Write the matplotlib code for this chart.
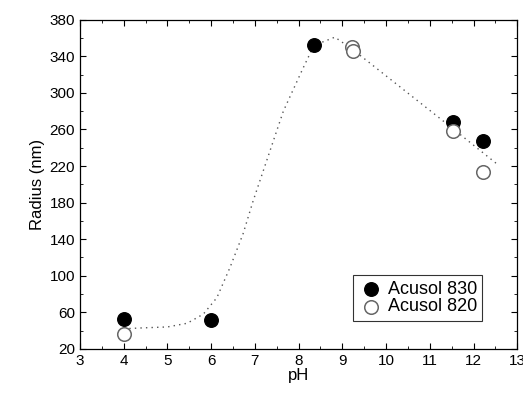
import matplotlib
matplotlib.use('Agg')
import matplotlib.pyplot as plt
from matplotlib.ticker import MultipleLocator

plt.rcParams['font.family'] = ['Liberation Sans', 'DejaVu Sans']

# Acusol 830 (filled)
ph_830 = [4.0, 6.0, 8.35, 11.52, 12.22]
rad_830 = [53, 52, 352, 268, 247]

# Acusol 820 (open)
ph_820 = [4.0, 9.22, 9.25, 11.52, 12.22]
rad_820 = [36, 350, 346, 258, 214]

# dotted guide curve
fit_ph = [4.0, 4.45, 5.0, 5.45, 5.82, 6.13, 6.43, 6.73, 6.96, 7.27, 7.65, 8.1, 8.35, 8.83, 9.25, 11.5, 12.57]
fit_rad = [42, 43, 44, 48, 58, 76, 109, 146, 182, 226, 280, 327, 352, 361, 347, 262, 221]

fig = plt.figure(figsize=(5.23, 3.96), dpi=100)
ax = fig.add_axes([0.153, 0.119, 0.836, 0.831])

ax.plot(fit_ph, fit_rad, linestyle=(0, (1, 3)), color='#555555', linewidth=1.0)
ax.scatter(ph_830, rad_830, s=95, color='black', zorder=3, label='Acusol 830')
ax.scatter(ph_820, rad_820, s=95, facecolor='white', edgecolor='#666666', linewidths=1.1,
           zorder=4, label='Acusol 820')

ax.set_xlim(3, 13)
ax.set_ylim(20, 380)
ax.xaxis.set_major_locator(MultipleLocator(1))
ax.xaxis.set_minor_locator(MultipleLocator(0.5))
ax.yaxis.set_major_locator(MultipleLocator(40, offset=20))
ax.yaxis.set_minor_locator(MultipleLocator(20))
ax.tick_params(which='both', direction='in', top=True, right=True, labelsize=11)
ax.tick_params(which='major', length=4)
ax.tick_params(which='minor', length=2)
for s in ax.spines.values():
    s.set_linewidth(0.9)

ax.set_xlabel('pH', fontsize=12, labelpad=0)
ax.set_ylabel('Radius (nm)', fontsize=12, labelpad=3)

leg = ax.legend(loc='lower right', bbox_to_anchor=(0.92, 0.085), fontsize=13,
                frameon=True, fancybox=False, edgecolor='black', handletextpad=0.2,
                borderpad=0.3, labelspacing=0.05, handlelength=1.4, borderaxespad=0)
leg.get_frame().set_linewidth(0.8)

fig.savefig('out.png', dpi=100)
